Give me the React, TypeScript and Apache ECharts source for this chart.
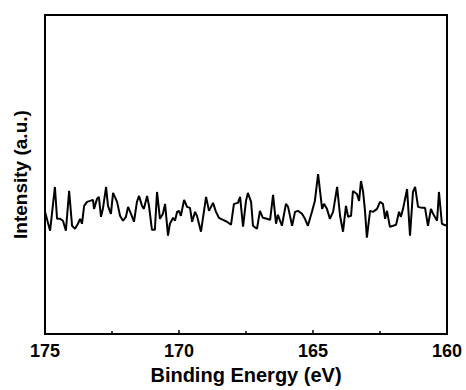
import React, { useEffect, useRef } from "react";
import * as echarts from "echarts";

const energies = [
  175.0, 174.81, 174.63, 174.55, 174.44, 174.33, 174.22, 174.1, 173.99, 173.88,
  173.77, 173.69, 173.62, 173.54, 173.43, 173.32, 173.21, 173.17, 173.06, 172.99,
  172.91, 172.84, 172.72, 172.65, 172.54, 172.46, 172.31, 172.2, 172.09, 171.98,
  171.9, 171.79, 171.68, 171.57, 171.49, 171.38, 171.31, 171.19, 171.12, 171.01,
  170.9, 170.82, 170.71, 170.6, 170.52, 170.41, 170.34, 170.22, 170.15, 170.07,
  170.0, 169.93, 169.81, 169.7, 169.59, 169.51, 169.4, 169.33, 169.18, 168.99,
  168.88, 168.73, 168.62, 168.51, 168.36, 168.21, 168.06, 167.95, 167.8, 167.72,
  167.61, 167.5, 167.43, 167.31, 167.24, 167.09, 166.98, 166.87, 166.72, 166.6,
  166.49, 166.38, 166.31, 166.16, 166.01, 165.93, 165.78, 165.67, 165.56, 165.41,
  165.3, 165.19, 165.04, 164.93, 164.81, 164.66, 164.59, 164.48, 164.37, 164.25,
  164.1, 163.99, 163.88, 163.77, 163.69, 163.58, 163.51, 163.36, 163.28, 163.21,
  163.13, 163.06, 162.99, 162.87, 162.76, 162.61, 162.5, 162.39, 162.31, 162.24,
  162.13, 162.01, 161.9, 161.79, 161.72, 161.64, 161.49, 161.38, 161.27, 161.19,
  161.08, 160.93, 160.82, 160.71, 160.6, 160.52, 160.37, 160.3, 160.19, 160.11,
  160.0,
];

const intensity = [
  123, 104, 148, 116, 116, 114, 104, 144, 109, 106,
  111, 116, 111, 129, 133, 134, 135, 126, 136, 138,
  118, 126, 148, 129, 121, 142, 133, 119, 114, 118,
  128, 121, 113, 133, 139, 129, 126, 139, 129, 105,
  105, 143, 116, 121, 131, 99, 111, 117, 114, 123,
  124, 119, 135, 128, 127, 113, 123, 119, 103, 138,
  124, 132, 123, 117, 115, 113, 110, 131, 132, 138,
  108, 134, 142, 133, 109, 106, 124, 117, 116, 115,
  140, 111, 120, 109, 131, 128, 109, 123, 124, 121,
  116, 109, 123, 134, 161, 126, 131, 126, 116, 123,
  148, 119, 103, 129, 118, 119, 144, 141, 134, 154,
  143, 124, 97, 124, 123, 126, 133, 131, 116, 124,
  108, 109, 110, 123, 118, 126, 146, 99, 143, 148,
  128, 127, 127, 109, 126, 121, 114, 143, 111, 110,
  109,
];

const xTicks = { min: 160, max: 175, interval: 5 };
const yRange = { min: 0, max: 321 };

export default function App() {
  const ref = useRef<HTMLDivElement>(null);
  useEffect(() => {
    if (!ref.current) return;
    const chart = echarts.init(ref.current, null, { renderer: "svg" });
    const font = "'Liberation Sans', Arial, sans-serif";
    chart.setOption({
      animation: false,
      backgroundColor: "#fff",
      grid: {
        left: 45,
        right: 19,
        top: 15,
        bottom: 54,
        show: true,
        borderColor: "#000",
        borderWidth: 2,
      },
      xAxis: {
        type: "value",
        inverse: true,
        min: xTicks.min,
        max: xTicks.max,
        interval: xTicks.interval,
        name: "Binding Energy (eV)",
        nameLocation: "middle",
        nameGap: 29,
        nameTextStyle: { fontFamily: font, fontWeight: "bold", fontSize: 20, color: "#000" },
        axisLine: { show: true, lineStyle: { color: "#000", width: 2 } },
        axisTick: { show: true, inside: true, length: 4, lineStyle: { color: "#000", width: 1.5 } },
        minorTick: { show: true, splitNumber: 2, length: 3, lineStyle: { color: "#000", width: 1.5 } },
        axisLabel: { fontFamily: font, fontWeight: "bold", fontSize: 18, color: "#000", margin: 8 },
        splitLine: { show: false },
      },
      yAxis: {
        type: "value",
        min: yRange.min,
        max: yRange.max,
        name: "Intensity (a.u.)",
        nameLocation: "middle",
        nameGap: 15,
        nameTextStyle: { fontFamily: font, fontWeight: "bold", fontSize: 19, color: "#000" },
        axisLine: { show: true, lineStyle: { color: "#000", width: 2 } },
        axisTick: { show: false },
        axisLabel: { show: false },
        splitLine: { show: false },
      },
      series: [
        {
          type: "line",
          data: energies.map((e, i) => [e, intensity[i]]),
          showSymbol: false,
          symbol: "none",
          lineStyle: { color: "#000", width: 2 },
        },
      ],
    });
    return () => chart.dispose();
  }, []);
  return <div ref={ref} style={{ width: 466, height: 390, position: "absolute", left: 0, top: 0 }} />;
}
